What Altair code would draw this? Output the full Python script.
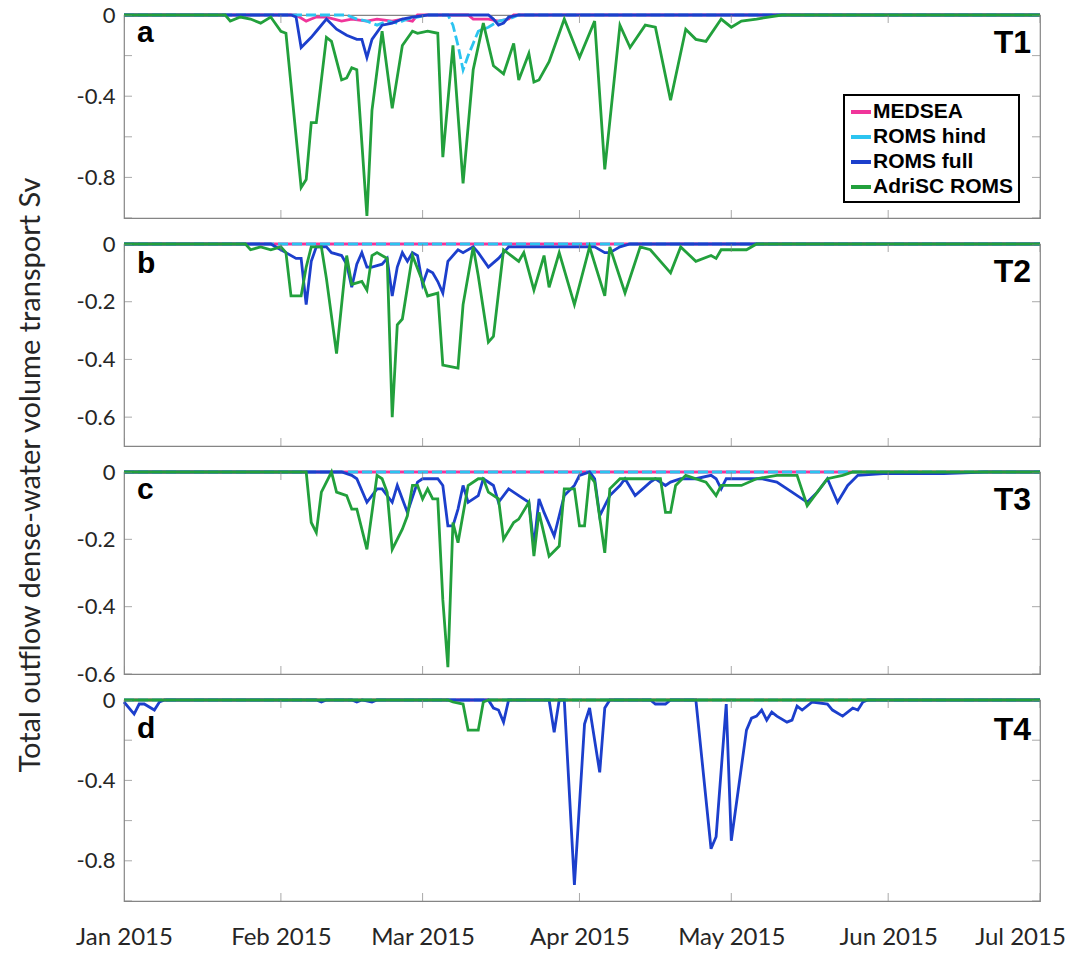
import altair as alt
import pandas as pd

SERIES = ["MEDSEA", "ROMS hind", "ROMS full", "AdriSC ROMS"]
COLORS = ["#f0359a", "#2cc4f0", "#1c3fcc", "#22a03c"]
MONTHS = ["2015-01-01", "2015-02-01", "2015-03-01", "2015-04-01",
          "2015-05-01", "2015-06-01", "2015-07-01"]
START = "2015-01-01"
YTITLE = "Total outflow dense-water volume transport Sv"

# days since 1 Jan 2015 and transport (Sv)
ZERO_D = [0, 181]
ZERO_V = [0, 0]

# ---- panel a (T1)
A_MED_D = [0, 34, 36, 37, 38, 40, 43, 45, 48, 50, 53, 55, 57, 58, 68, 69, 72, 74, 76, 77, 181]
A_MED_V = [0, 0, -0.03, -0.02, -0.01, -0.01, -0.03, -0.02, -0.03, -0.02, -0.03, -0.02, -0.03, 0, 0,
           -0.02, -0.02, -0.03, -0.02, 0, 0]
A_HIND_D = [0, 44, 46, 48, 50, 52, 54, 56, 58, 60, 64, 65, 66, 67, 68, 69, 70, 72, 74, 76, 78, 181]
A_HIND_V = [0, 0, -0.02, -0.03, -0.05, -0.03, -0.04, -0.02, -0.01, 0, 0, -0.05, -0.15, -0.27, -0.2,
            -0.14, -0.08, -0.06, -0.03, -0.02, 0, 0]
A_FULL_D = [0, 33, 34, 35, 37, 38, 40, 42, 44, 46, 47, 48, 49, 51, 53, 55, 57, 60, 72, 73, 74, 75, 76, 78, 181]
A_FULL_V = [0, 0, -0.01, -0.16, -0.11, -0.08, -0.02, -0.07, -0.10, -0.12, -0.12, -0.21, -0.12, -0.05,
            -0.04, -0.02, -0.01, 0, 0, -0.02, -0.05, -0.04, -0.01, 0, 0]
A_ADRI_D = [0, 20, 21, 23, 25, 27, 29, 31, 32, 35, 36, 37, 38, 40, 41, 43, 44, 45, 46, 48, 49, 51, 53,
            55, 57, 58, 60, 62, 63, 65, 67, 69, 71, 73, 75, 77, 78, 80, 81, 82, 84, 85, 87, 90, 93, 95,
            98, 100, 103, 105, 108, 111, 113, 115, 118, 120, 122, 125, 130, 181]
A_ADRI_V = [0, 0, -0.03, -0.01, -0.02, -0.04, -0.01, -0.08, -0.09, -0.85, -0.81, -0.53, -0.53, -0.11,
            -0.13, -0.32, -0.31, -0.26, -0.27, -0.99, -0.47, -0.08, -0.46, -0.15, -0.08, -0.09, -0.08,
            -0.09, -0.70, -0.15, -0.83, -0.27, -0.04, -0.25, -0.29, -0.14, -0.32, -0.19, -0.33, -0.32,
            -0.23, -0.16, -0.02, -0.21, -0.03, -0.76, -0.05, -0.16, -0.05, -0.06, -0.42, -0.07, -0.12,
            -0.13, -0.02, -0.06, -0.03, -0.02, 0, 0]

# ---- panel b (T2)
B_FULL_D = [0, 29, 31, 32, 34, 35, 36, 37, 38, 40, 41, 43, 44, 45, 46, 47, 48, 49, 51, 52, 53, 54, 55,
            56, 57, 58, 59, 60, 61, 62, 63, 64, 66, 67, 69, 70, 72, 74, 76, 79, 83, 93, 95, 96, 98, 100, 181]
B_FULL_V = [0, 0, -0.02, -0.03, -0.05, -0.05, -0.21, -0.06, -0.01, -0.01, -0.03, -0.04, -0.07, -0.15,
            -0.07, -0.03, -0.08, -0.08, -0.07, -0.05, -0.18, -0.08, -0.03, -0.06, -0.03, -0.04, -0.14,
            -0.09, -0.10, -0.13, -0.17, -0.06, -0.02, -0.03, -0.01, -0.03, -0.08, -0.05, -0.01, -0.01,
            -0.01, -0.01, -0.03, -0.03, -0.01, 0, 0]
B_ADRI_D = [0, 24, 25, 27, 29, 31, 32, 33, 35, 36, 37, 39, 40, 42, 44, 45, 47, 48, 49, 50, 52, 53, 54,
            55, 57, 59, 60, 62, 63, 66, 67, 69, 70, 72, 73, 75, 78, 79, 81, 83, 84, 86, 89, 92, 95, 96,
            99, 102, 104, 108, 110, 113, 116, 117, 118, 123, 125, 181]
B_ADRI_V = [0, 0, -0.02, -0.01, -0.02, -0.01, -0.03, -0.18, -0.18, -0.08, -0.01, -0.01, -0.12, -0.38,
            -0.04, -0.14, -0.13, -0.16, -0.04, -0.03, -0.05, -0.60, -0.28, -0.26, -0.04, -0.13, -0.18,
            -0.17, -0.42, -0.43, -0.21, -0.01, -0.11, -0.34, -0.32, -0.02, -0.06, -0.03, -0.16, -0.04,
            -0.15, -0.03, -0.21, -0.01, -0.18, -0.01, -0.17, -0.01, -0.02, -0.10, -0.01, -0.06, -0.04,
            -0.05, -0.02, -0.02, 0, 0]

# ---- panel c (T3)
C_FULL_D = [0, 43, 45, 46, 48, 50, 51, 53, 54, 56, 58, 59, 62, 63, 64, 65, 66, 67, 68, 70, 71, 73, 74,
            76, 78, 80, 81, 82, 83, 85, 87, 89, 90, 92, 93, 94, 96, 98, 99, 101, 104, 105, 107, 108,
            110, 113, 116, 117, 118, 119, 122, 126, 129, 132, 135, 137, 139, 141, 143, 145, 150, 155,
            162, 170, 181]
C_FULL_V = [0, 0, -0.01, -0.02, -0.09, -0.05, -0.05, -0.09, -0.04, -0.12, -0.03, -0.02, -0.02, -0.04,
            -0.16, -0.16, -0.11, -0.04, -0.09, -0.07, -0.02, -0.04, -0.09, -0.05, -0.07, -0.09, -0.22,
            -0.08, -0.12, -0.19, -0.07, -0.04, -0.01, 0, -0.02, -0.13, -0.07, -0.04, -0.02, -0.07,
            -0.03, -0.02, -0.04, -0.03, -0.02, -0.02, -0.01, -0.02, -0.05, -0.02, -0.02, -0.02, -0.03,
            -0.06, -0.09, -0.06, -0.02, -0.09, -0.04, -0.01, -0.005, -0.005, -0.005, 0, 0]
C_ADRI_D = [0, 36, 37, 38, 39, 41, 42, 44, 45, 46, 48, 50, 51, 52, 53, 55, 56, 57, 58, 59, 60, 61, 62,
            63, 64, 65, 66, 68, 70, 71, 72, 74, 75, 77, 78, 80, 81, 82, 84, 86, 87, 89, 90, 91, 92, 93,
            95, 96, 98, 101, 104, 106, 107, 108, 109, 111, 115, 117, 118, 120, 122, 125, 129, 133, 135,
            137, 139, 142, 144, 181]
C_ADRI_V = [0, 0, -0.15, -0.18, -0.06, 0, -0.06, -0.07, -0.11, -0.11, -0.23, -0.01, -0.02, -0.06,
            -0.23, -0.17, -0.13, -0.04, -0.04, -0.08, -0.05, -0.08, -0.08, -0.38, -0.58, -0.15, -0.21,
            -0.04, -0.02, -0.02, -0.06, -0.08, -0.20, -0.15, -0.14, -0.09, -0.25, -0.12, -0.25, -0.22,
            -0.05, -0.05, -0.16, -0.16, -0.01, -0.03, -0.24, -0.05, -0.02, -0.02, -0.02, -0.02, -0.12,
            -0.12, -0.04, -0.01, -0.03, -0.07, -0.04, -0.04, -0.04, -0.02, -0.01, -0.01, -0.10, -0.06,
            -0.02, -0.01, 0, 0]

# ---- panel d (T4)
D_FULL_D = [0, 2, 3, 4, 6, 7, 8, 38, 39, 40, 45, 46, 47, 49, 50, 72, 73, 74, 75, 76, 84, 85, 86, 87,
            89, 91, 92, 94, 95, 96, 104, 105, 107, 108, 113, 116, 117, 119, 120, 123, 124, 125, 126,
            127, 128, 129, 131, 132, 133, 134, 136, 139, 140, 142, 144, 145, 146, 147, 181]
D_FULL_V = [-0.01, -0.07, -0.02, -0.02, -0.05, -0.01, 0, 0, -0.01, 0, 0, -0.01, 0, -0.01, 0, 0, -0.04,
            -0.05, -0.11, 0, 0, -0.16, 0, 0, -0.92, -0.12, -0.04, -0.36, -0.04, 0, 0, -0.02, -0.02, 0,
            0, -0.74, -0.68, -0.02, -0.70, -0.15, -0.09, -0.08, -0.05, -0.10, -0.06, -0.08, -0.11,
            -0.10, -0.03, -0.05, -0.01, -0.02, -0.05, -0.08, -0.04, -0.05, -0.01, 0, 0]
D_ADRI_D = [0, 64, 65, 67, 68, 70, 71, 72, 181]
D_ADRI_V = [0, 0, -0.01, -0.02, -0.15, -0.15, -0.01, 0, 0]

PANELS = [
    dict(letter="a", tag="T1", ymin=-1.0, ticks=[0, -0.2, -0.4, -0.6, -0.8, -1.0],
         labels=[0, -0.4, -0.8], height=203, letter_y=27, tag_y=38,
         data={"MEDSEA": (A_MED_D, A_MED_V), "ROMS hind": (A_HIND_D, A_HIND_V),
               "ROMS full": (A_FULL_D, A_FULL_V), "AdriSC ROMS": (A_ADRI_D, A_ADRI_V)}),
    dict(letter="b", tag="T2", ymin=-0.7, ticks=[0, -0.2, -0.4, -0.6],
         labels=[0, -0.2, -0.4, -0.6], height=202, letter_y=29, tag_y=38,
         data={"MEDSEA": (ZERO_D, ZERO_V), "ROMS hind": (ZERO_D, ZERO_V),
               "ROMS full": (B_FULL_D, B_FULL_V), "AdriSC ROMS": (B_ADRI_D, B_ADRI_V)}),
    dict(letter="c", tag="T3", ymin=-0.6, ticks=[0, -0.2, -0.4, -0.6],
         labels=[0, -0.2, -0.4, -0.6], height=202, letter_y=27, tag_y=38,
         data={"MEDSEA": (ZERO_D, ZERO_V), "ROMS hind": (ZERO_D, ZERO_V),
               "ROMS full": (C_FULL_D, C_FULL_V), "AdriSC ROMS": (C_ADRI_D, C_ADRI_V)}),
    dict(letter="d", tag="T4", ymin=-1.0, ticks=[0, -0.2, -0.4, -0.6, -0.8, -1.0],
         labels=[0, -0.4, -0.8], height=201, letter_y=38, tag_y=40,
         data={"MEDSEA": (ZERO_D, ZERO_V), "ROMS hind": (ZERO_D, ZERO_V),
               "ROMS full": (D_FULL_D, D_FULL_V), "AdriSC ROMS": (D_ADRI_D, D_ADRI_V)}),
]

FONT = "Lato"
BOLD = "Liberation Sans"
FRAME = "#858585"
TXT = "#262626"
W = 916


def to_dates(days):
    return pd.Timestamp(START) + pd.to_timedelta(days, unit="D")


def label_expr(labels):
    parts = []
    for v in labels:
        s = "0" if v == 0 else f"{v:.1f}"
        parts.append(f"datum.value == {v} ? '{s}'")
    return " : ".join(parts) + " : ''"


x_scale = alt.Scale(domain=[alt.DateTime(year=2015, month=1, date=1),
                            alt.DateTime(year=2015, month=7, date=1)], nice=False)
x_axis_bottom = alt.Axis(
    values=[alt.DateTime(year=2015, month=m, date=1) for m in range(1, 8)],
    format="%b %Y", labelFont=FONT, labelFontSize=24, labelColor=TXT,
    labelPadding=24, ticks=False, domain=False, grid=False, title=None,
    labelFlush=False, labelOverlap=False, labelBound=False,
    labelOffset={"condition": {"test": "month(datum.value) == 6", "value": -20}, "value": 0},
)


def make_panel(p, idx):
    h = p["height"]
    xenc = alt.X("date:T", scale=x_scale, axis=(x_axis_bottom if idx == 3 else None))
    yaxis = alt.Axis(values=p["ticks"], labelExpr=label_expr(p["labels"]), labelFont=FONT,
                     labelFontSize=22, labelColor=TXT, labelPadding=9, ticks=False,
                     domain=False, grid=False, title=None, labelOverlap=False)
    yenc = alt.Y("value:Q", scale=alt.Scale(domain=[p["ymin"], 0], nice=False, zero=False),
                 axis=yaxis)
    if idx == 0:
        legend = alt.Legend(title=None, orient="none", legendX=720, legendY=80,
                            symbolType="stroke", symbolStrokeWidth=4, symbolSize=400,
                            labelFont=BOLD, labelFontWeight="bold", labelFontSize=21,
                            labelColor="black", strokeColor="black", fillColor="white",
                            padding=5, rowPadding=3, labelOffset=0, cornerRadius=0)
    else:
        legend = None
    color = alt.Color("series:N", scale=alt.Scale(domain=SERIES, range=COLORS), legend=legend)

    layers = []
    for s in SERIES:
        d, v = p["data"][s]
        df = pd.DataFrame({"date": to_dates(d), "value": v, "series": s})
        props = dict(strokeWidth=2.8)
        if s == "ROMS hind":
            props["strokeDash"] = [10, 4]
        layers.append(alt.Chart(df).mark_line(**props).encode(x=xenc, y=yenc, color=color))

    xt = pd.DataFrame({"date": pd.to_datetime(MONTHS)})
    yt = pd.DataFrame({"value": p["ticks"]})
    tick_style = dict(size=16, thickness=1, color=FRAME, clip=True)
    layers.append(alt.Chart(xt).mark_tick(orient="vertical", **tick_style)
                  .encode(x=xenc, y=alt.value(0)))
    layers.append(alt.Chart(xt).mark_tick(orient="vertical", **tick_style)
                  .encode(x=xenc, y=alt.value(h)))
    layers.append(alt.Chart(yt).mark_tick(orient="horizontal", **tick_style)
                  .encode(y=yenc, x=alt.value(0)))
    layers.append(alt.Chart(yt).mark_tick(orient="horizontal", **tick_style)
                  .encode(y=yenc, x=alt.value(W)))

    layers.append(alt.Chart(pd.DataFrame({"t": [p["letter"]]}))
                  .mark_text(align="left", baseline="alphabetic", font=BOLD, fontSize=30,
                             fontWeight="bold", color="black")
                  .encode(text="t:N", x=alt.value(13), y=alt.value(p["letter_y"])))
    layers.append(alt.Chart(pd.DataFrame({"t": [p["tag"]]}))
                  .mark_text(align="right", baseline="alphabetic", font=BOLD, fontSize=32,
                             fontWeight="bold", color="black")
                  .encode(text="t:N", x=alt.value(W - 9), y=alt.value(p["tag_y"])))
    if idx == 2:
        layers.append(alt.Chart(pd.DataFrame({"t": [YTITLE]}))
                      .mark_text(angle=270, align="center", baseline="middle", font=FONT,
                                 fontSize=29, color=TXT)
                      .encode(text="t:N", x=alt.value(-93), y=alt.value(3)))
    return alt.layer(*layers).properties(width=W, height=h)


panels = [make_panel(p, i) for i, p in enumerate(PANELS)]

chart = (
    alt.vconcat(*panels, spacing=26, bounds="flush")
    .resolve_scale(color="independent")
    .properties(padding={"left": 16, "top": 3, "right": 0, "bottom": 0}, background="white")
    .configure_view(stroke=FRAME, strokeWidth=1.2)
    .configure_legend(strokeWidth=2)
)

chart.save("out.html", embed_options={"renderer": "svg", "actions": False})
